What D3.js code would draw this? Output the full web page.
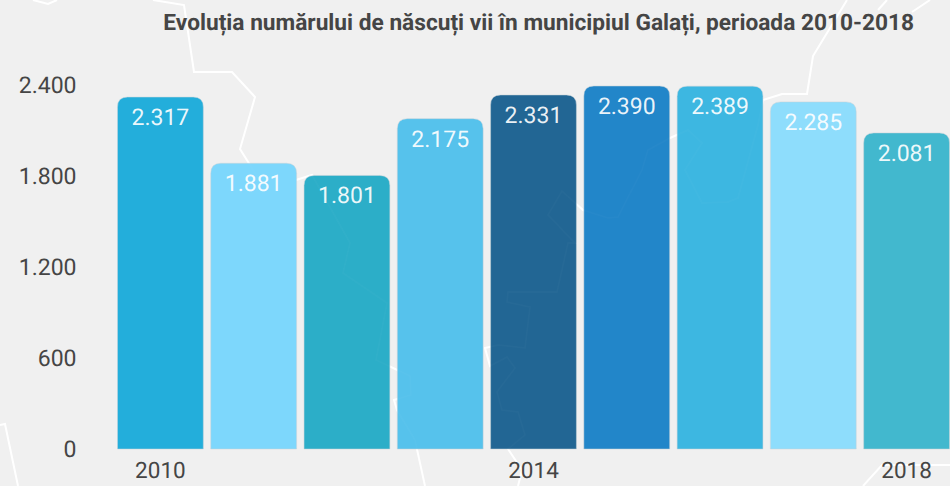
<!DOCTYPE html>
<html><head><meta charset="utf-8">
<script src="https://cdn.jsdelivr.net/npm/d3@7/dist/d3.min.js"></script>
<style>html,body{margin:0;padding:0;background:#f0f0f0}svg{display:block}text{font-family:Roboto,sans-serif;text-rendering:geometricPrecision}</style>
</head><body><div id="c"></div>
<script>
const title = "Evoluția numărului de născuți vii în municipiul Galați, perioada 2010-2018";
const years = [2010,2011,2012,2013,2014,2015,2016,2017,2018];
const births = [2317,1881,1801,2175,2331,2390,2389,2285,2081];
const barColors = ["#23aedb","#7dd7fc","#2caec8","#56c2ec","#226694","#2286c9","#3db7e1","#8eddfc","#42b8ce"];
const yTicks = [0,600,1200,1800,2400];
const xTicks = [2010,2014,2018];
// decorative backdrop: the white county outline behind the chart
const outline = [
 [[33,0],[48,4],[57,0]],
 [[153,0],[184,5],[194,72],[232,72],[255,97],[240,149],[250,165],[258,178]],
 [[296,180],[312,175],[350,243],[343,273],[387,303],[376,360],[410,376],[411,395],[394,400],[397,410],[415,440],[425,486]],
 [[0,425],[5,424],[18,486]],
 [[847,0],[813,56],[807,94],[782,94],[763,100],[758,125],[738,198],[728,202],[702,203],[685,170],[702,143],[688,130],[670,138],[648,150],[642,170],[618,217],[608,218],[583,210],[562,191],[548,215],[575,243],[568,243],[557,292],[508,292],[507,302],[530,307],[525,348],[498,345],[485,348],[490,366],[507,357],[515,368],[497,392],[502,410],[518,412],[525,435],[508,449],[522,470],[518,486]],
 [[863,486],[882,465],[950,465]],
 [[887,0],[878,10]],
 [[930,0],[912,12]]
];
const W=950,H=486,ink="#454545";
const svg=d3.select("#c").append("svg").attr("width",W).attr("height",H);
svg.append("rect").attr("width",W).attr("height",H).attr("fill","#f0f0f0");
const drawOutline=(opacity)=>svg.append("g").attr("stroke-opacity",opacity).selectAll("path").data(outline).join("path")
  .attr("d",d3.line()).attr("fill","none").attr("stroke","#fff").attr("stroke-width",2);
drawOutline(1);
const x=d3.scaleBand().domain(years).range([117.5,949.5]).paddingInner(0.08).paddingOuter(0);
const y=d3.scaleLinear().domain([0,2400]).range([449,84.5]);
const r=10;
const barPath=d=>{const x0=x(d.year),x1=x0+x.bandwidth(),t=y(d.value),b=y(0);
  const p=d3.path();p.moveTo(x0,b);p.lineTo(x0,t+r);p.quadraticCurveTo(x0,t,x0+r,t);p.lineTo(x1-r,t);p.quadraticCurveTo(x1,t,x1,t+r);p.lineTo(x1,b);p.closePath();return p.toString();};
const data=years.map((year,i)=>({year,value:births[i],color:barColors[i]}));
svg.append("g").selectAll("path").data(data).join("path")
  .attr("d",barPath).attr("fill",d=>d.color)
  .attr("stroke","#c8d4da").attr("stroke-opacity",0.5).attr("stroke-width",1);
drawOutline(0.02);
const fmt=v=>d3.format(",")(v).replace(",",".");
svg.append("g").selectAll("text").data(data).join("text")
  .attr("x",d=>x(d.year)+x.bandwidth()/2).attr("y",d=>y(d.value)+28)
  .attr("text-anchor","middle").attr("fill","#fff").attr("fill-opacity",0.92).attr("font-size",23)
  .text(d=>fmt(d.value));
const ya=svg.append("g").attr("transform","translate(76.5,0.5)")
  .call(d3.axisLeft(y).tickValues(yTicks).tickSize(0).tickPadding(0).tickFormat(fmt));
ya.select(".domain").remove();
ya.selectAll("text").attr("font-size",23).attr("fill",ink).attr("font-family","Roboto,sans-serif");
const xa=svg.append("g").attr("transform","translate(0,449)")
  .call(d3.axisBottom(x).tickValues(xTicks).tickSize(0).tickPadding(13.5).tickFormat(d3.format("d")));
xa.select(".domain").remove();
xa.selectAll("text").attr("font-size",22.5).attr("fill",ink).attr("font-family","Roboto,sans-serif");
svg.append("text").attr("x",914).attr("y",29.5).attr("text-anchor","end")
  .attr("font-size",22.7).attr("font-weight",700).attr("fill",ink).text(title);
</script></body></html>
